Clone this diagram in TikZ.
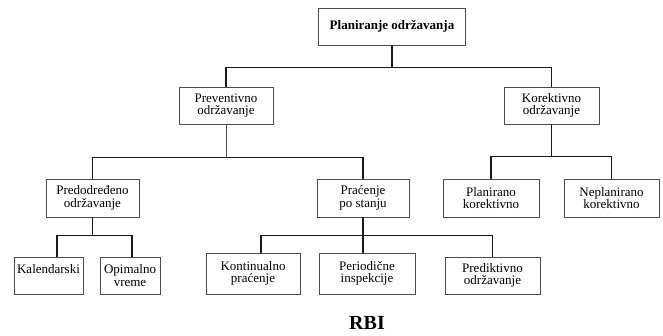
\documentclass[tikz,border=0pt]{standalone}
\usepackage{fontspec}
\setmainfont{Liberation Serif}
\begin{document}
\begin{tikzpicture}[x=1pt,y=-1pt,
	box/.style={draw=black!70,line width=0.6pt,minimum height=37,inner sep=0pt,align=center,font=\fontsize{13}{12.5}\selectfont},
	conn/.style={line width=1.3pt,black!90}]
	
	\useasboundingbox (0,0) rectangle (663,336);
	
	\node[box,minimum width=147,font=\bfseries\fontsize{13}{12.5}\selectfont] (plan) at (392,26.5) {Planiranje održavanja};
	
	\node[box,minimum width=94] (prev) at (226,105.5) {Preventivno\\održavanje};
	\node[box,minimum width=95] (kor) at (551.5,105.5) {Korektivno\\održavanje};
	
	\node[box,minimum width=93,minimum height=38] (pred) at (92.5,198) {Predodređeno\\održavanje};
	\node[box,minimum width=92,minimum height=38] (prac) at (363,198) {Praćenje\\po stanju};
	\node[box,minimum width=96,minimum height=38] (plank) at (491,198) {Planirano\\korektivno};
	\node[box,minimum width=95,minimum height=38] (neplank) at (611.5,198) {Neplanirano\\korektivno};
	
	\node[box,minimum width=69] (kal) at (48.5,275.5) {Kalendarski\\\mbox{}};
	\node[box,minimum width=60] (opt) at (130,275.5) {Opimalno\\vreme};
	\node[box,minimum width=94,minimum height=41] (kont) at (253,273.5) {Kontinualno\\praćenje};
	\node[box,minimum width=96,minimum height=41] (per) at (367,273.5) {Periodične\\inspekcije};
	\node[box,minimum width=95] (predk) at (492.5,275.5) {Prediktivno\\održavanje};
	
	\node[font=\bfseries\fontsize{20}{20}\selectfont] (rbi) at (367,323) {RBI};
	
	\draw[conn] (plan.south) -- ++(0,22) -| (prev.north);
	\draw[conn] (plan.south) -- ++(0,22) -| (kor.north);
	
	\draw[line width=0.6pt,black!70] (prev.south) -- ++(0,33) coordinate (pj);
	\draw[conn] (pred.north) |- (pj) -| (prac.north);
	\draw[conn] (kor.south) -- ++(0,32) -| (plank.north);
	\draw[conn] (kor.south) -- ++(0,32) -| (neplank.north);
	
	\draw[conn] (pred.south) -- ++(0,18) -| ([xshift=8.5]kal.north);
	\draw[conn] (pred.south) -- ++(0,18) -| ([xshift=2]opt.north);
	\draw[conn] (prac.south) -- ++(0,18) -| ([xshift=8]kont.north);
	\draw[conn] (prac.south) -- ([xshift=-4]per.north);
	\draw[conn] (prac.south) -- ++(0,18) -| (predk.north);
\end{tikzpicture}
\end{document}
